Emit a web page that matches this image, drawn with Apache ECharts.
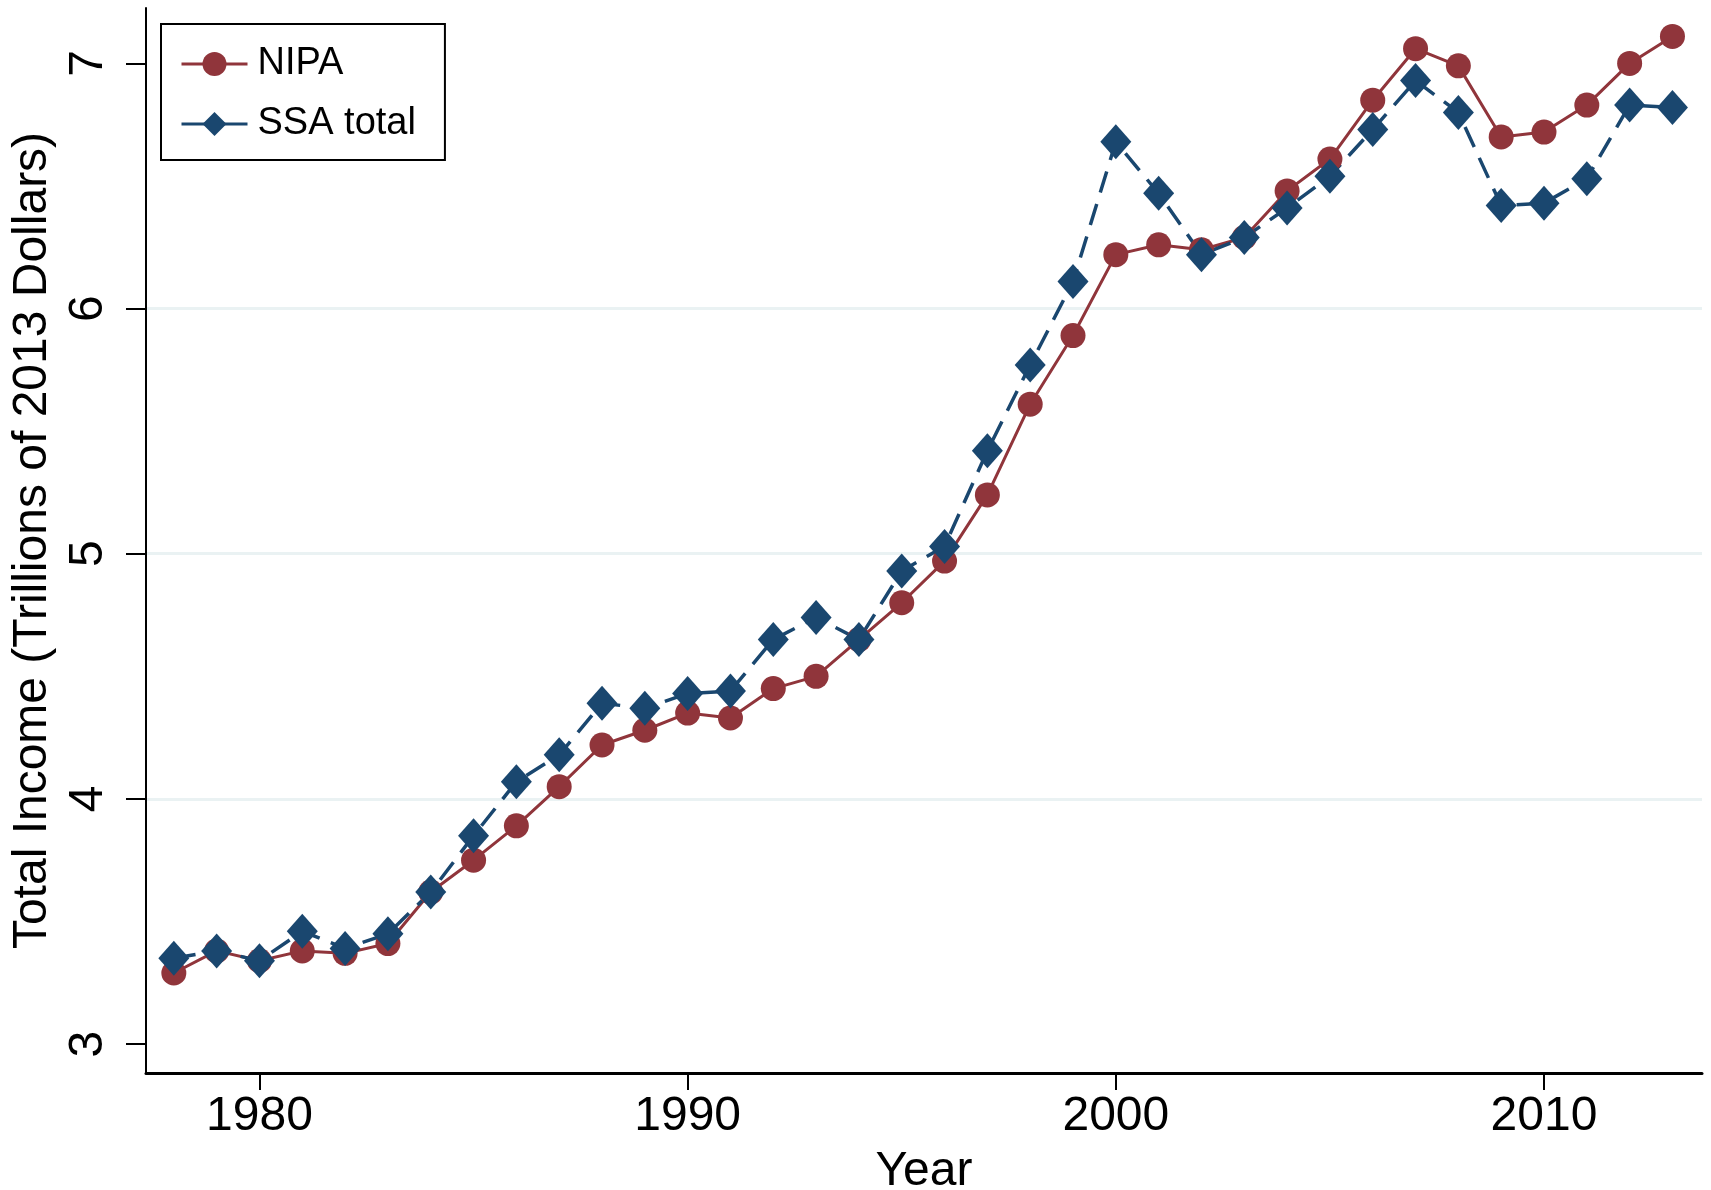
<!doctype html>
<html>
    <head>
        <meta charset="utf-8">
        <title>Total Income - NIPA vs SSA</title>
        <style>
            html, body { margin: 0; padding: 0; background: #fff; }
            #main { width: 1711px; height: 1190px; }
        </style>
    </head>
    <body>
        <div id="main"></div>
        <script src="https://cdn.jsdelivr.net/npm/echarts@6/dist/echarts.min.js"></script>
        <script>
            var years = [1978, 1979, 1980, 1981, 1982, 1983, 1984, 1985, 1986, 1987, 1988, 1989,
                         1990, 1991, 1992, 1993, 1994, 1995, 1996, 1997, 1998, 1999, 2000, 2001,
                         2002, 2003, 2004, 2005, 2006, 2007, 2008, 2009, 2010, 2011, 2012, 2013];
            var nipa = [3.29, 3.38, 3.34, 3.38, 3.37, 3.41, 3.62, 3.75, 3.89, 4.05, 4.22, 4.28,
                        4.35, 4.33, 4.45, 4.50, 4.65, 4.80, 4.97, 5.24, 5.61, 5.89, 6.22, 6.26,
                        6.24, 6.29, 6.48, 6.61, 6.85, 7.06, 6.99, 6.70, 6.72, 6.83, 7.00, 7.11];
            var ssaTotal = [3.35, 3.38, 3.34, 3.46, 3.39, 3.45, 3.62, 3.85, 4.07, 4.18, 4.39, 4.37,
                            4.43, 4.44, 4.65, 4.74, 4.65, 4.93, 5.03, 5.42, 5.77, 6.11, 6.68, 6.47,
                            6.22, 6.29, 6.41, 6.54, 6.73, 6.93, 6.80, 6.42, 6.43, 6.53, 6.83, 6.82];
            var xTicks = [1980, 1990, 2000, 2010];
            var yTicks = [3, 4, 5, 6, 7];

            var FONT = 'Liberation Sans, Arial, sans-serif';
            var RED = '#90353B';
            var NAVY = '#1A476F';

            function pairs(vals) {
                return years.map(function (y, i) { return [y, vals[i]]; });
            }

            var chart = echarts.init(document.getElementById('main'));

            chart.setOption({
                backgroundColor: '#fff',
                animation: false,
                grid: {
                    left: 146, right: 9, top: 8, bottom: 117,
                    outerBoundsMode: 'none'
                },
                legend: {
                    orient: 'vertical',
                    left: 161,
                    top: 24,
                    padding: [21, 29, 17, 19],
                    borderColor: '#000',
                    borderWidth: 2,
                    backgroundColor: '#fff',
                    itemWidth: 66,
                    itemHeight: 30,
                    itemGap: 22,
                    lineStyle: { type: 'solid', width: 3 },
                    textStyle: { fontFamily: FONT, fontSize: 38, color: '#000', padding: [0, 0, 0, 5] },
                    data: ['NIPA', 'SSA total']
                },
                xAxis: {
                    type: 'value',
                    name: 'Year',
                    nameLocation: 'middle',
                    nameGap: 75,
                    nameTextStyle: { fontFamily: FONT, fontSize: 48, color: '#000' },
                    min: 1977.35,
                    max: 2013.69,
                    axisLine: { show: true, onZero: false, lineStyle: { color: '#000', width: 3 } },
                    axisTick: { show: true, length: 17, lineStyle: { color: '#000', width: 2 }, customValues: xTicks },
                    axisLabel: {
                        fontFamily: FONT, fontSize: 48, color: '#000', margin: 20, customValues: xTicks,
                        formatter: function (v) { return String(v); }
                    },
                    splitLine: { show: false }
                },
                yAxis: {
                    type: 'value',
                    name: 'Total Income (Trillions of 2013 Dollars)',
                    nameLocation: 'middle',
                    nameRotate: 90,
                    nameGap: 78,
                    nameTextStyle: { fontFamily: FONT, fontSize: 48, color: '#000' },
                    min: 2.882,
                    max: 7.226,
                    axisLine: { show: true, onZero: false, lineStyle: { color: '#000', width: 2 } },
                    axisTick: { show: true, length: 20, lineStyle: { color: '#000', width: 2 }, customValues: yTicks },
                    axisLabel: { fontFamily: FONT, fontSize: 48, color: '#000', rotate: 90, margin: 33, customValues: yTicks },
                    splitLine: {
                        show: true,
                        showMinLine: false,
                        showMaxLine: false,
                        lineStyle: { color: '#EAF2F3', width: 3 }
                    }
                },
                series: [{
                    name: 'NIPA',
                    type: 'line',
                    data: pairs(nipa),
                    symbol: 'circle',
                    symbolSize: 25,
                    color: RED,
                    itemStyle: { color: RED },
                    lineStyle: { color: RED, width: 3 },
                    silent: true
                }, {
                    name: 'SSA total',
                    type: 'line',
                    data: pairs(ssaTotal),
                    symbol: 'diamond',
                    symbolSize: [31, 35],
                    color: NAVY,
                    itemStyle: { color: NAVY },
                    lineStyle: { color: NAVY, width: 3.5, type: [22, 12] },
                    silent: true
                }]
            });

            window.addEventListener('resize', function () {
                chart.resize();
            });
        </script>
    </body>
</html>
